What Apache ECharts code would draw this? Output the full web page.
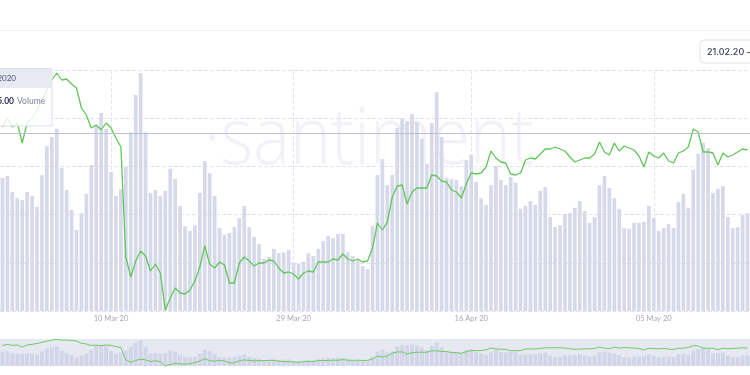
<!DOCTYPE html>
<html><head><meta charset="utf-8">
<script src="https://cdn.jsdelivr.net/npm/echarts@6/dist/echarts.min.js"></script>
<style>html,body{margin:0;padding:0;background:#fff;overflow:hidden}#c{width:750px;height:375px}</style>
</head><body><div id="c"></div>
<script>
// Volume (bars), 12h steps
const volume = [27.6,28.0,24.7,23.4,23.0,24.7,23.9,21.6,28.2,34.2,
36.1,37.8,29.7,25.1,21.0,16.8,20.3,24.3,30.3,38.4,
41.1,37.8,28.8,23.9,25.3,29.9,37.1,44.8,49.4,37.1,
24.5,25.1,23.9,24.9,29.5,27.4,21.8,17.6,16.6,17.8,
24.5,31.1,28.6,23.9,17.2,15.8,16.2,17.4,19.3,21.8,
17.4,15.4,13.9,10.8,11.2,12.9,12.0,12.2,12.7,10.0,
9.8,10.2,12.0,11.4,12.9,14.5,15.6,15.1,16.0,16.0,
12.2,11.4,10.6,9.3,8.7,17.6,28.2,31.5,26.1,28.2,
38.0,40.0,39.4,40.9,39.2,35.7,30.5,39.0,45.4,36.1,
27.6,27.4,27.2,25.9,31.3,32.4,26.8,23.4,22.0,26.1,
30.1,27.2,26.1,27.8,26.6,21.2,21.8,22.8,22.0,24.9,
25.7,19.5,17.4,17.8,20.1,20.3,21.4,22.8,20.7,18.3,
19.5,26.1,28.0,25.5,23.4,21.2,17.2,17.0,18.3,18.3,
18.5,21.8,19.3,16.6,17.2,18.0,17.2,22.6,24.3,21.4,
29.3,32.6,34.9,33.8,24.5,25.3,25.9,19.5,17.2,17.4,
19.9,20.3];
// Price (green line)
const price = [8480,8660,8480,8560,8160,8560,8660,8820,9020,9220,
9420,9560,9420,9440,9340,9260,8860,8720,8460,8520,
8420,8560,8460,8260,8080,5880,5480,5800,6000,5900,
5600,5740,5560,4820,5060,5260,5160,5140,5220,5400,
5680,6100,5740,5660,5780,5720,5360,5360,5760,5880,
5800,5700,5760,5760,5820,5800,5660,5560,5580,5540,
5440,5560,5600,5580,5780,5780,5780,5840,5820,5940,
5840,5800,5840,5780,5800,6060,6560,6420,6580,7080,
7300,7320,6940,7180,7260,7260,7260,7520,7500,7400,
7380,7220,7180,7060,7340,7560,7540,7560,7680,8000,
7860,7780,7760,7540,7520,7560,7820,7860,7840,7940,
8040,8040,8080,8040,8000,7880,7780,7820,7860,7860,
7940,8180,7980,7920,8160,8000,8100,8060,8020,7900,
7680,7980,7900,7860,7960,7800,7760,7960,8000,8080,
8440,8380,7980,7980,7960,7720,7960,7880,7920,7980,
8040,8020];
const tickLabels = ['10 Mar 20','29 Mar 20','16 Apr 20','05 May 20'];
const tickIndex = [22, 59, 95, 132];
const crosshairPrice = 8360;
const dateRange = '21.02.20 - 21.05.20';
const tooltipDate = 'Feb 24, 2020';
const tooltipValue = '1,846,305.00';

const categories = volume.map((_, i) => {
  const k = tickIndex.indexOf(i);
  return k >= 0 ? tickLabels[k] : String(i);
});
const showTick = (i) => tickIndex.indexOf(i) >= 0;

const chart = echarts.init(document.getElementById('c'), null, {renderer: 'canvas'});
chart.setOption({
  animation: false,
  textStyle: {fontFamily: 'Lato'},
  grid: [
    {left: -1.5, width: 754, top: 70, height: 241},
    {left: -24.3, width: 803, top: 339, height: 27, show: true, backgroundColor: '#e6e8f2', borderWidth: 0}
  ],
  xAxis: [
    {type: 'category', gridIndex: 0, data: categories, boundaryGap: true,
     axisLine: {show: false}, axisTick: {show: false},
     axisLabel: {interval: showTick, color: '#a3a7bb', fontSize: 7.5, margin: 4},
     splitLine: {show: true, interval: showTick, alignWithLabel: true, lineStyle: {type: 'dashed', color: '#e3e5ee'}}},
    {type: 'category', gridIndex: 1, data: categories, boundaryGap: true, show: false}
  ],
  yAxis: [
    {type: 'value', gridIndex: 0, min: 0, max: 50, interval: 10,
     axisLabel: {show: false}, axisLine: {show: false}, axisTick: {show: false},
     splitLine: {lineStyle: {type: 'dashed', color: '#e3e5ee'}}},
    {type: 'value', gridIndex: 0, min: 4800, max: 9620, show: false, splitLine: {show: false}},
    {type: 'value', gridIndex: 1, min: 0, max: 52, show: false, splitLine: {show: false}},
    {type: 'value', gridIndex: 1, min: 4800, max: 9620, show: false, splitLine: {show: false}}
  ],
  series: [
    {type: 'bar', xAxisIndex: 0, yAxisIndex: 0, data: volume, barWidth: 3.7,
     itemStyle: {color: '#d6d9ea'}, z: 2, silent: true},
    {type: 'line', xAxisIndex: 0, yAxisIndex: 1, data: price, symbol: 'none',
     lineStyle: {color: '#62c65a', width: 1.3}, z: 3, silent: true,
     markLine: {silent: true, symbol: ['none', 'none'], label: {show: false},
       lineStyle: {type: 'solid', color: '#bcc0d7', width: 1}, data: [{yAxis: crosshairPrice}]}},
    {type: 'bar', xAxisIndex: 1, yAxisIndex: 2, data: volume, barWidth: 3.9,
     itemStyle: {color: '#d2d5e7'}, silent: true},
    {type: 'line', xAxisIndex: 1, yAxisIndex: 3, data: price, symbol: 'none',
     lineStyle: {color: '#6ccb63', width: 1}, silent: true}
  ],
  graphic: [
    {type: 'text', z: -10, silent: true, x: 204, y: 141, scaleX: 0.87,
     style: {text: '·santiment', font: '300 80px "Open Sans"', fill: '#f1f2f7', verticalAlign: 'middle'}},
    {type: 'rect', z: 10, silent: true, shape: {x: 0, y: 30, width: 750, height: 1}, style: {fill: '#eceef3'}},
    {type: 'rect', z: 10, silent: true, shape: {x: 700, y: 40, width: 90, height: 23, r: 4},
     style: {fill: '#fff', stroke: '#e1e3ec', lineWidth: 1}},
    {type: 'text', z: 11, silent: true, x: 707, y: 52,
     style: {text: dateRange, font: '500 9px Inter', fill: '#383c55', verticalAlign: 'middle'}},
    {type: 'rect', z: 20, silent: true, shape: {x: -110, y: 68.5, width: 162, height: 57.5},
     style: {fill: 'rgba(255,255,255,0.82)', stroke: '#dcdfea', lineWidth: 1}},
    {type: 'rect', z: 21, silent: true, shape: {x: -110, y: 69, width: 161.5, height: 19},
     style: {fill: 'rgba(230,232,242,0.95)'}},
    {type: 'text', z: 22, silent: true, x: 16, y: 78,
     style: {text: tooltipDate, font: '8px Lato', fill: '#4d5270', align: 'right', verticalAlign: 'middle'}},
    {type: 'text', z: 22, silent: true, x: 14, y: 101,
     style: {text: tooltipValue, font: 'bold 8.5px Lato', fill: '#2f3350', align: 'right', verticalAlign: 'middle'}},
    {type: 'text', z: 22, silent: true, x: 17, y: 101,
     style: {text: 'Volume', font: '8.5px Lato', fill: '#80849c', align: 'left', verticalAlign: 'middle'}}
  ]
});
</script></body></html>
